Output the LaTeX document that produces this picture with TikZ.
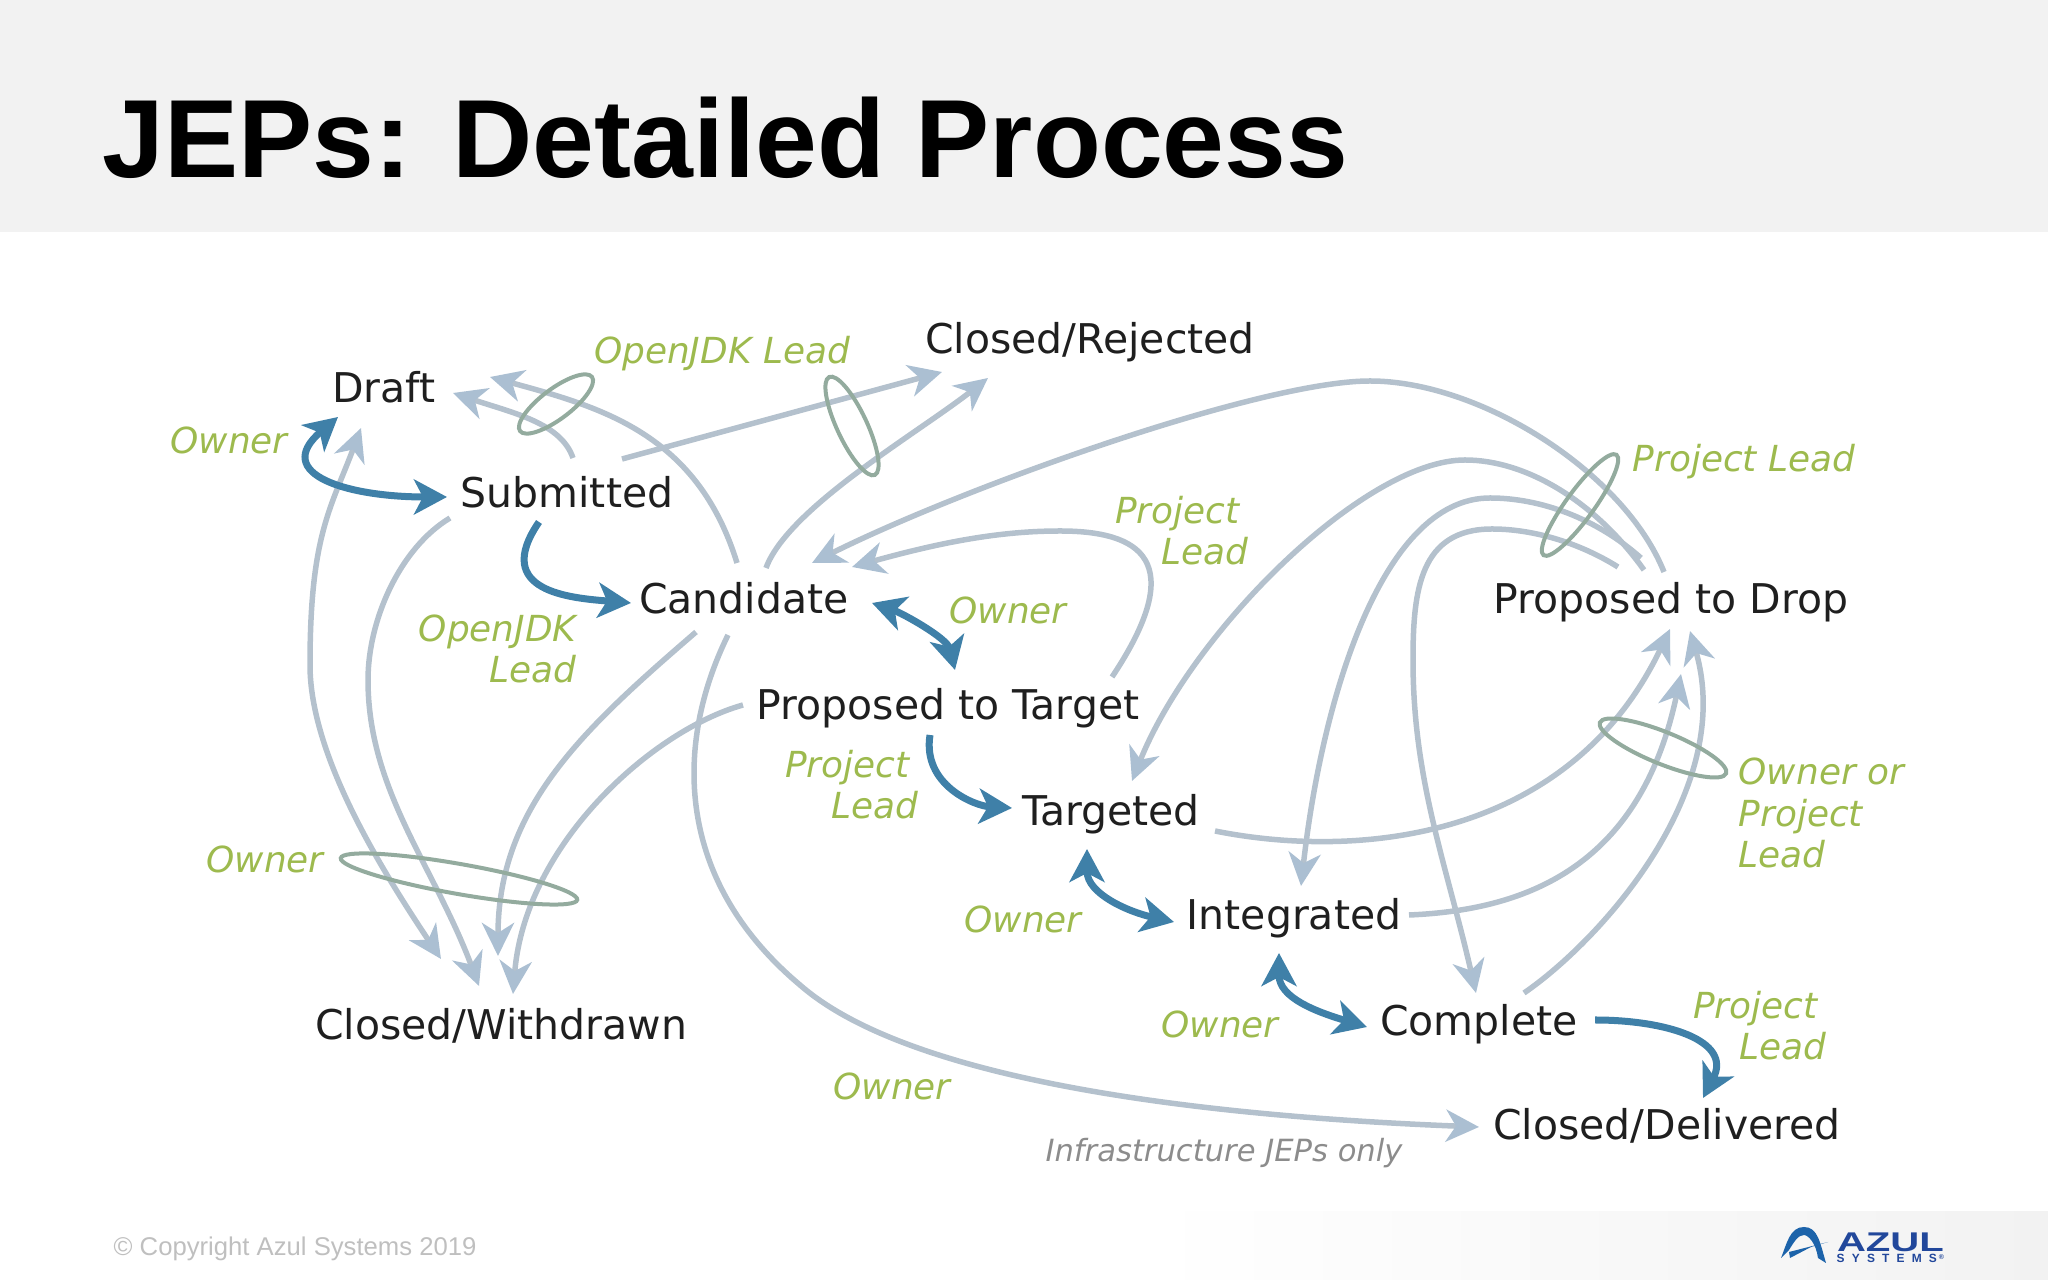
\documentclass[tikz,border=0pt]{standalone}
\usepackage{fontspec}
\usepackage{tikz}
\usetikzlibrary{arrows.meta,shapes.geometric}
\setmainfont{DejaVu Sans}
\newfontfamily\slidefont{Liberation Sans}
\definecolor{bandgrey}{HTML}{F2F2F2}
\definecolor{flowgrey}{HTML}{B4C1CD}
\definecolor{tipgrey}{HTML}{ABBFD2}
\definecolor{actionblue}{HTML}{3F80A8}
\definecolor{rolegreen}{HTML}{9DBA4E}
\definecolor{ringgreen}{HTML}{93AB9E}
\definecolor{azulblue}{HTML}{21479B}
\tikzset{
	jepstate/.style={font=\fontsize{11.65}{14}\selectfont, text=black!88, inner sep=0pt, text height=0.31cm, text depth=0pt},
	rolelabel/.style={font=\fontsize{10.2}{11.7}\selectfont\itshape, text=rolegreen, inner sep=0pt},
	rolering/.style={ellipse, draw=ringgreen, line width=0.04cm, inner sep=0pt},
	flow/.style={draw=flowgrey, line width=0.055cm, -{Stealth[length=0.33cm,width=0.32cm,inset=0.1cm,color=tipgrey]}},
	flowboth/.style={draw=flowgrey, line width=0.055cm, {Stealth[length=0.33cm,width=0.32cm,inset=0.1cm,color=tipgrey]}-{Stealth[length=0.33cm,width=0.32cm,inset=0.1cm,color=tipgrey]}},
	action/.style={draw=actionblue, line width=0.07cm, -{Stealth[length=0.33cm,width=0.35cm,inset=0.09cm]}},
	actionboth/.style={draw=actionblue, line width=0.07cm, {Stealth[length=0.33cm,width=0.35cm,inset=0.09cm]}-{Stealth[length=0.33cm,width=0.35cm,inset=0.09cm]}}
}
\begin{document}
\begin{tikzpicture}[x=0.01cm, y=-0.01cm]
\useasboundingbox (0, 0) rectangle (2048, 1280);
\fill[bandgrey] (0, 0) rectangle (2048, 232);
\shade[left color=white, right color=bandgrey] (1150, 1212) rectangle (2048, 1280);
\node[anchor=base west, inner sep=0pt, font=\slidefont\bfseries\fontsize{31.6}{36}\selectfont] (title) at (102, 178) {JEPs: Detailed Process};
\node[anchor=base west, inner sep=0pt, text=black!25, font=\slidefont\fontsize{7.3}{9}\selectfont] (copyright) at (113, 1256) {© Copyright Azul Systems 2019};

% states
\node[jepstate] (draft) at (384, 387) {Draft};
\node[jepstate] (submitted) at (567, 492) {Submitted};
\node[jepstate] (candidate) at (744, 598) {Candidate};
\node[jepstate] (rejected) at (1090, 338) {Closed/Rejected};
\node[jepstate] (target) at (948, 704) {Proposed to Target};
\node[jepstate] (targeted) at (1111, 810) {Targeted};
\node[jepstate] (integrated) at (1294, 914) {Integrated};
\node[jepstate] (complete) at (1479, 1020) {Complete};
\node[jepstate] (delivered) at (1667, 1124) {Closed/Delivered};
\node[jepstate] (drop) at (1671, 598) {Proposed to Drop};
\node[jepstate] (withdrawn) at (501, 1024) {Closed/Withdrawn};

% who may do it
\node[rolelabel] (ownerdraft) at (229, 440) {Owner};
\node[rolelabel] (leadtop) at (722, 354) {OpenJDK Lead};
\node[rolelabel, align=right, anchor=east] (leadsub) at (577, 649) {OpenJDK\\Lead};
\node[rolelabel] (ownercand) at (1008, 610) {Owner};
\node[rolelabel, align=right, anchor=east] (projloop) at (1249, 531) {Project\kern0.09cm\\Lead};
\node[rolelabel] (projdrop) at (1744, 462) {Project Lead};
\node[rolelabel, align=left, anchor=west] (ownerproj) at (1738, 813) {Owner or\\Project\\Lead};
\node[rolelabel, align=right, anchor=east] (projtarget) at (919, 785) {Project\kern0.09cm\\Lead};
\node[rolelabel] (ownerleft) at (265, 859) {Owner};
\node[rolelabel] (ownerint) at (1023, 919) {Owner};
\node[rolelabel] (ownercomp) at (1220, 1024) {Owner};
\node[rolelabel, align=right, anchor=east] (projcomp) at (1827, 1026) {Project\kern0.09cm\\Lead};
\node[rolelabel] (ownerlow) at (892, 1086) {Owner};
\node[rolelabel, text=black!45, font=\fontsize{8.7}{11}\selectfont\itshape] (infra) at (1224, 1153) {Infrastructure JEPs only};

% grey transitions
\draw[flow] ([shift={(6,-34)}]submitted.center) .. controls +(-12, -35) and +(60, 20) ..
	([shift={(69,6)}]draft.center);
\draw[flow] ([shift={(-7,-35)}]candidate.center) .. controls +(-40, -130) and +(110, 30) ..
	([shift={(106,-10)}]draft.center);
\draw[flow] ([shift={(55,-33)}]submitted.center) -- ([shift={(-148,34)}]rejected.center);
\draw[flow] ([shift={(22,-30)}]candidate.center) .. controls +(22, -60) and +(-70, 55) ..
	([shift={(-102,40)}]rejected.center);
\draw[flowboth] ([shift={(-23,41)}]draft.center) .. controls +(-30, 80) and +(0, -130) ..
	(310, 665) .. controls +(0, 90) and +(-60, -90) ..
	([shift={(-60,-65)}]withdrawn.center);
\draw[flow] ([shift={(-117,26)}]submitted.center) .. controls +(-50, 30) and +(0, -60) ..
	(368, 680) .. controls +(0, 110) and +(-45, -120) ..
	([shift={(-22,-38)}]withdrawn.center);
\draw[flow] ([shift={(-48,34)}]candidate.center) .. controls +(-110, 95) and +(0, -150) ..
	([shift={(-3,-68)}]withdrawn.center);
\draw[flow] ([shift={(-205,1)}]target.center) .. controls +(-90, 25) and +(12, -150) ..
	([shift={(12,-30)}]withdrawn.center);
\draw[flow] ([shift={(-16,37)}]candidate.center) .. controls +(-54, 110) and +(-125, -105) ..
	(800, 985) .. controls +(120, 105) and +(-228, -9) ..
	([shift={(-188,3)}]delivered.center);
\draw[flow] ([shift={(-7,-26)}]drop.center) .. controls +(-40, -100) and +(110, 0) ..
	(1370, 381) .. controls +(-110, 0) and +(150, -75) ..
	([shift={(68,-35)}]candidate.center);
\draw[flow] ([shift={(164,-27)}]target.center) .. controls +(78, -117) and +(80, 0) ..
	(1060, 531) .. controls +(-60, 0) and +(90, -25) ..
	([shift={(108,-31)}]candidate.center);
\draw[flow] ([shift={(-27,-28)}]drop.center) .. controls +(-50, -70) and +(60, 0) ..
	(1465, 460) .. controls +(-100, 0) and +(60, -150) ..
	([shift={(21,-29)}]targeted.center);
\draw[flow] ([shift={(-30,-40)}]drop.center) .. controls +(-45, -40) and +(50, 0) ..
	(1490, 498) .. controls +(-110, 0) and +(20, -180) ..
	([shift={(7,-28)}]integrated.center);
\draw[flow] ([shift={(-53,-31)}]drop.center) .. controls +(-40, -25) and +(40, 0) ..
	(1492, 529) .. controls +(-72, 0) and +(0, -70) ..
	(1413, 660) .. controls +(0, 120) and +(-30, -130) ..
	([shift={(-3,-27)}]complete.center);
\draw[flow] ([shift={(104,21)}]targeted.center) .. controls +(145, 29) and +(-100, 210) ..
	([shift={(-1,31)}]drop.center);
\draw[flow] ([shift={(115,1)}]integrated.center) .. controls +(121, -5) and +(-40, 190) ..
	([shift={(10,76)}]drop.center);
\draw[flow] ([shift={(45,-27)}]complete.center) .. controls +(77, -53) and +(46, 159) ..
	([shift={(19,33)}]drop.center);

% blue transitions
\draw[actionboth] ([shift={(-46,30)}]draft.center) .. controls +(-68, 58) and +(-97, 0) ..
	([shift={(-120,5)}]submitted.center);
\draw[action] ([shift={(-28,30)}]submitted.center) .. controls +(-48, 70) and +(-60, -5) ..
	([shift={(-113,5)}]candidate.center);
\draw[actionboth] ([shift={(128,5)}]candidate.center) .. controls +(30, 10) and +(-8, -32) ..
	([shift={(7,-34)}]target.center);
\draw[action] ([shift={(-18,31)}]target.center) .. controls +(-8, 50) and +(-37, -2) ..
	([shift={(-99,-2)}]targeted.center);
\draw[actionboth] ([shift={(-24,39)}]targeted.center) .. controls +(0, 45) and +(-45, -10) ..
	([shift={(-120,8)}]integrated.center);
\draw[actionboth] ([shift={(-15,39)}]integrated.center) .. controls +(0, 45) and +(-50, -15) ..
	([shift={(-112,7)}]complete.center);
\draw[action] ([shift={(116,0)}]complete.center) .. controls +(70, 0) and +(30, -58) ..
	([shift={(36,-26)}]delivered.center);

% rings round the grouped transitions
\node[rolering, minimum width=0.9cm, minimum height=0.3cm, rotate=37] (ringdraft) at (556, 404) {};
\node[rolering, minimum width=1.08cm, minimum height=0.3cm, rotate=-65] (ringrejected) at (852, 426) {};
\node[rolering, minimum width=1.24cm, minimum height=0.28cm, rotate=54] (ringdrop) at (1580, 505) {};
\node[rolering, minimum width=1.36cm, minimum height=0.32cm, rotate=-22] (ringproj) at (1663, 748) {};
\node[rolering, minimum width=2.4cm, minimum height=0.3cm, rotate=-10] (ringowner) at (459, 879) {};

% logo
\fill[azulblue!85!cyan] (1781, 1258) .. controls +(6, -15) and +(-14, 0) .. (1804, 1227)
	.. controls +(14, 0) and +(-6, -20) .. (1826, 1263)
	-- (1818, 1258) .. controls +(-2, -15) and +(4, 0) .. (1804, 1235)
	.. controls +(-6, 0) and +(5, -8) .. (1789, 1250) -- cycle;
\fill[azulblue!85!cyan] (1789, 1252) -- (1828, 1242) -- (1811, 1247) -- (1790, 1258) -- cycle;
\node[anchor=base west, inner sep=0pt, text=azulblue, xscale=1.48, font=\slidefont\bfseries\fontsize{7.7}{9}\selectfont] (azul) at (1836, 1252) {AZUL};
\node[anchor=base west, inner sep=0pt, text=azulblue, font=\slidefont\bfseries\fontsize{3.4}{4}\selectfont\addfontfeature{LetterSpace=60}] (systems) at (1836, 1263) {SYSTEMS\kern0.02cm\raisebox{0.03cm}{\fontsize{2}{2}\selectfont ®}};
\end{tikzpicture}
\end{document}
